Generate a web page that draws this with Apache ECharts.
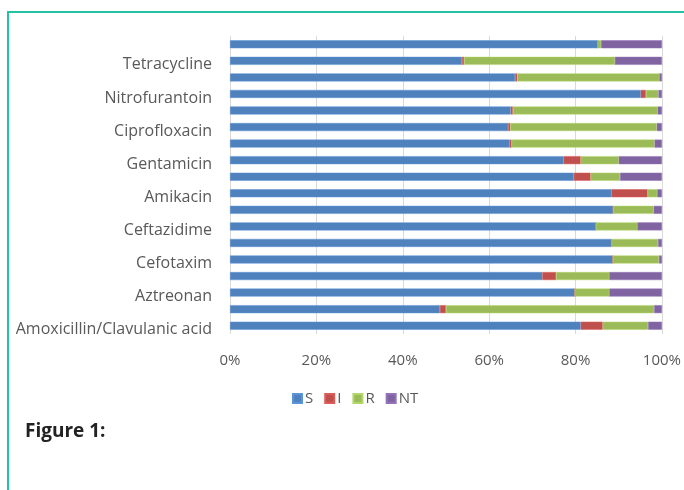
<!DOCTYPE html>
<html><head><meta charset="utf-8">
<script src="https://cdn.jsdelivr.net/npm/echarts@6/dist/echarts.min.js"></script>
<style>html,body{margin:0;padding:0;background:#fff}#c{width:684px;height:490px}</style>
</head><body><div id="c"></div>
<script>
const categories = ["Amoxicillin/Clavulanic acid","Ampicillin","Aztreonan","Cefuroxime","Cefotaxim","Ceftriaxone","Ceftazidime","Imipenem","Amikacin","Tobramycin","Gentamicin","Norfloxacin","Ciprofloxacin","Levofloxacin","Nitrofurantoin","Nalidixic acid","Tetracycline","Trimethoprim/Sulfamethoxazole"];
const S  = [81.2,48.6,79.8,72.3,88.6,88.3,84.7,88.7,88.3,79.6,77.2,64.7,64.4,65.0,95.1,66.0,53.7,85.1];
const I  = [5.1,1.4,0,3.2,0,0,0,0,8.4,3.9,4.0,0.5,0.5,0.5,1.2,0.5,0.5,0];
const R  = [10.5,48.2,8.0,12.3,10.7,10.8,9.6,9.4,2.2,6.8,8.8,33.1,33.9,33.5,2.9,32.9,34.9,0.8];
const NT = [3.2,1.8,12.2,12.2,0.7,0.9,5.7,1.9,1.1,9.7,10.0,1.7,1.2,1.0,0.8,0.6,10.9,14.1];
const tickLabels = ["0%","20%","40%","60%","80%","100%"];
const seriesNames = ["S","I","R","NT"];
const colors = ["#4F81BD","#C0504D","#9BBB59","#8064A2"];
const dataSets = [S,I,R,NT];

const chart = echarts.init(document.getElementById('c'));
chart.setOption({
  animation:false,
  textStyle:{fontFamily:"Open Sans"},
  color:colors,
  title:{text:"Figure 1:",left:20,top:417,textStyle:{fontFamily:"Open Sans",fontWeight:"bold",fontSize:19,color:"#222"}},
  graphic:[{type:'rect',shape:{x:8,y:12,width:700,height:500},style:{fill:'none',stroke:'#22c2a2',lineWidth:2},silent:true}],
  legend:{data:seriesNames,top:386,left:287,icon:'rect',itemWidth:9,itemHeight:9,itemGap:11,
    textStyle:{fontSize:15,color:'#595959',fontFamily:"Open Sans",padding:[0,0,0,-2]}},
  grid:{left:230,right:22,top:36,bottom:156,containLabel:false},
  xAxis:{type:'value',min:0,max:100,interval:20,
    axisLabel:{formatter:(v)=>tickLabels[Math.round(v/20)],fontSize:15,color:'#595959',margin:19},
    splitLine:{show:true,lineStyle:{color:'#d9d9d9',width:1}},axisLine:{show:false},axisTick:{show:false}},
  yAxis:{type:'category',data:categories,
    axisLabel:{interval:1,fontSize:16,color:'#595959',margin:18,verticalAlign:'top',lineHeight:8},
    axisLine:{show:false},axisTick:{show:false}},
  series:dataSets.map((d,i)=>({name:seriesNames[i],type:'bar',stack:'all',data:d,barWidth:8,
    itemStyle:{color:colors[i],borderColor:echarts.color.lift(colors[i],-0.15),borderWidth:0.5}}))
});
</script></body></html>
